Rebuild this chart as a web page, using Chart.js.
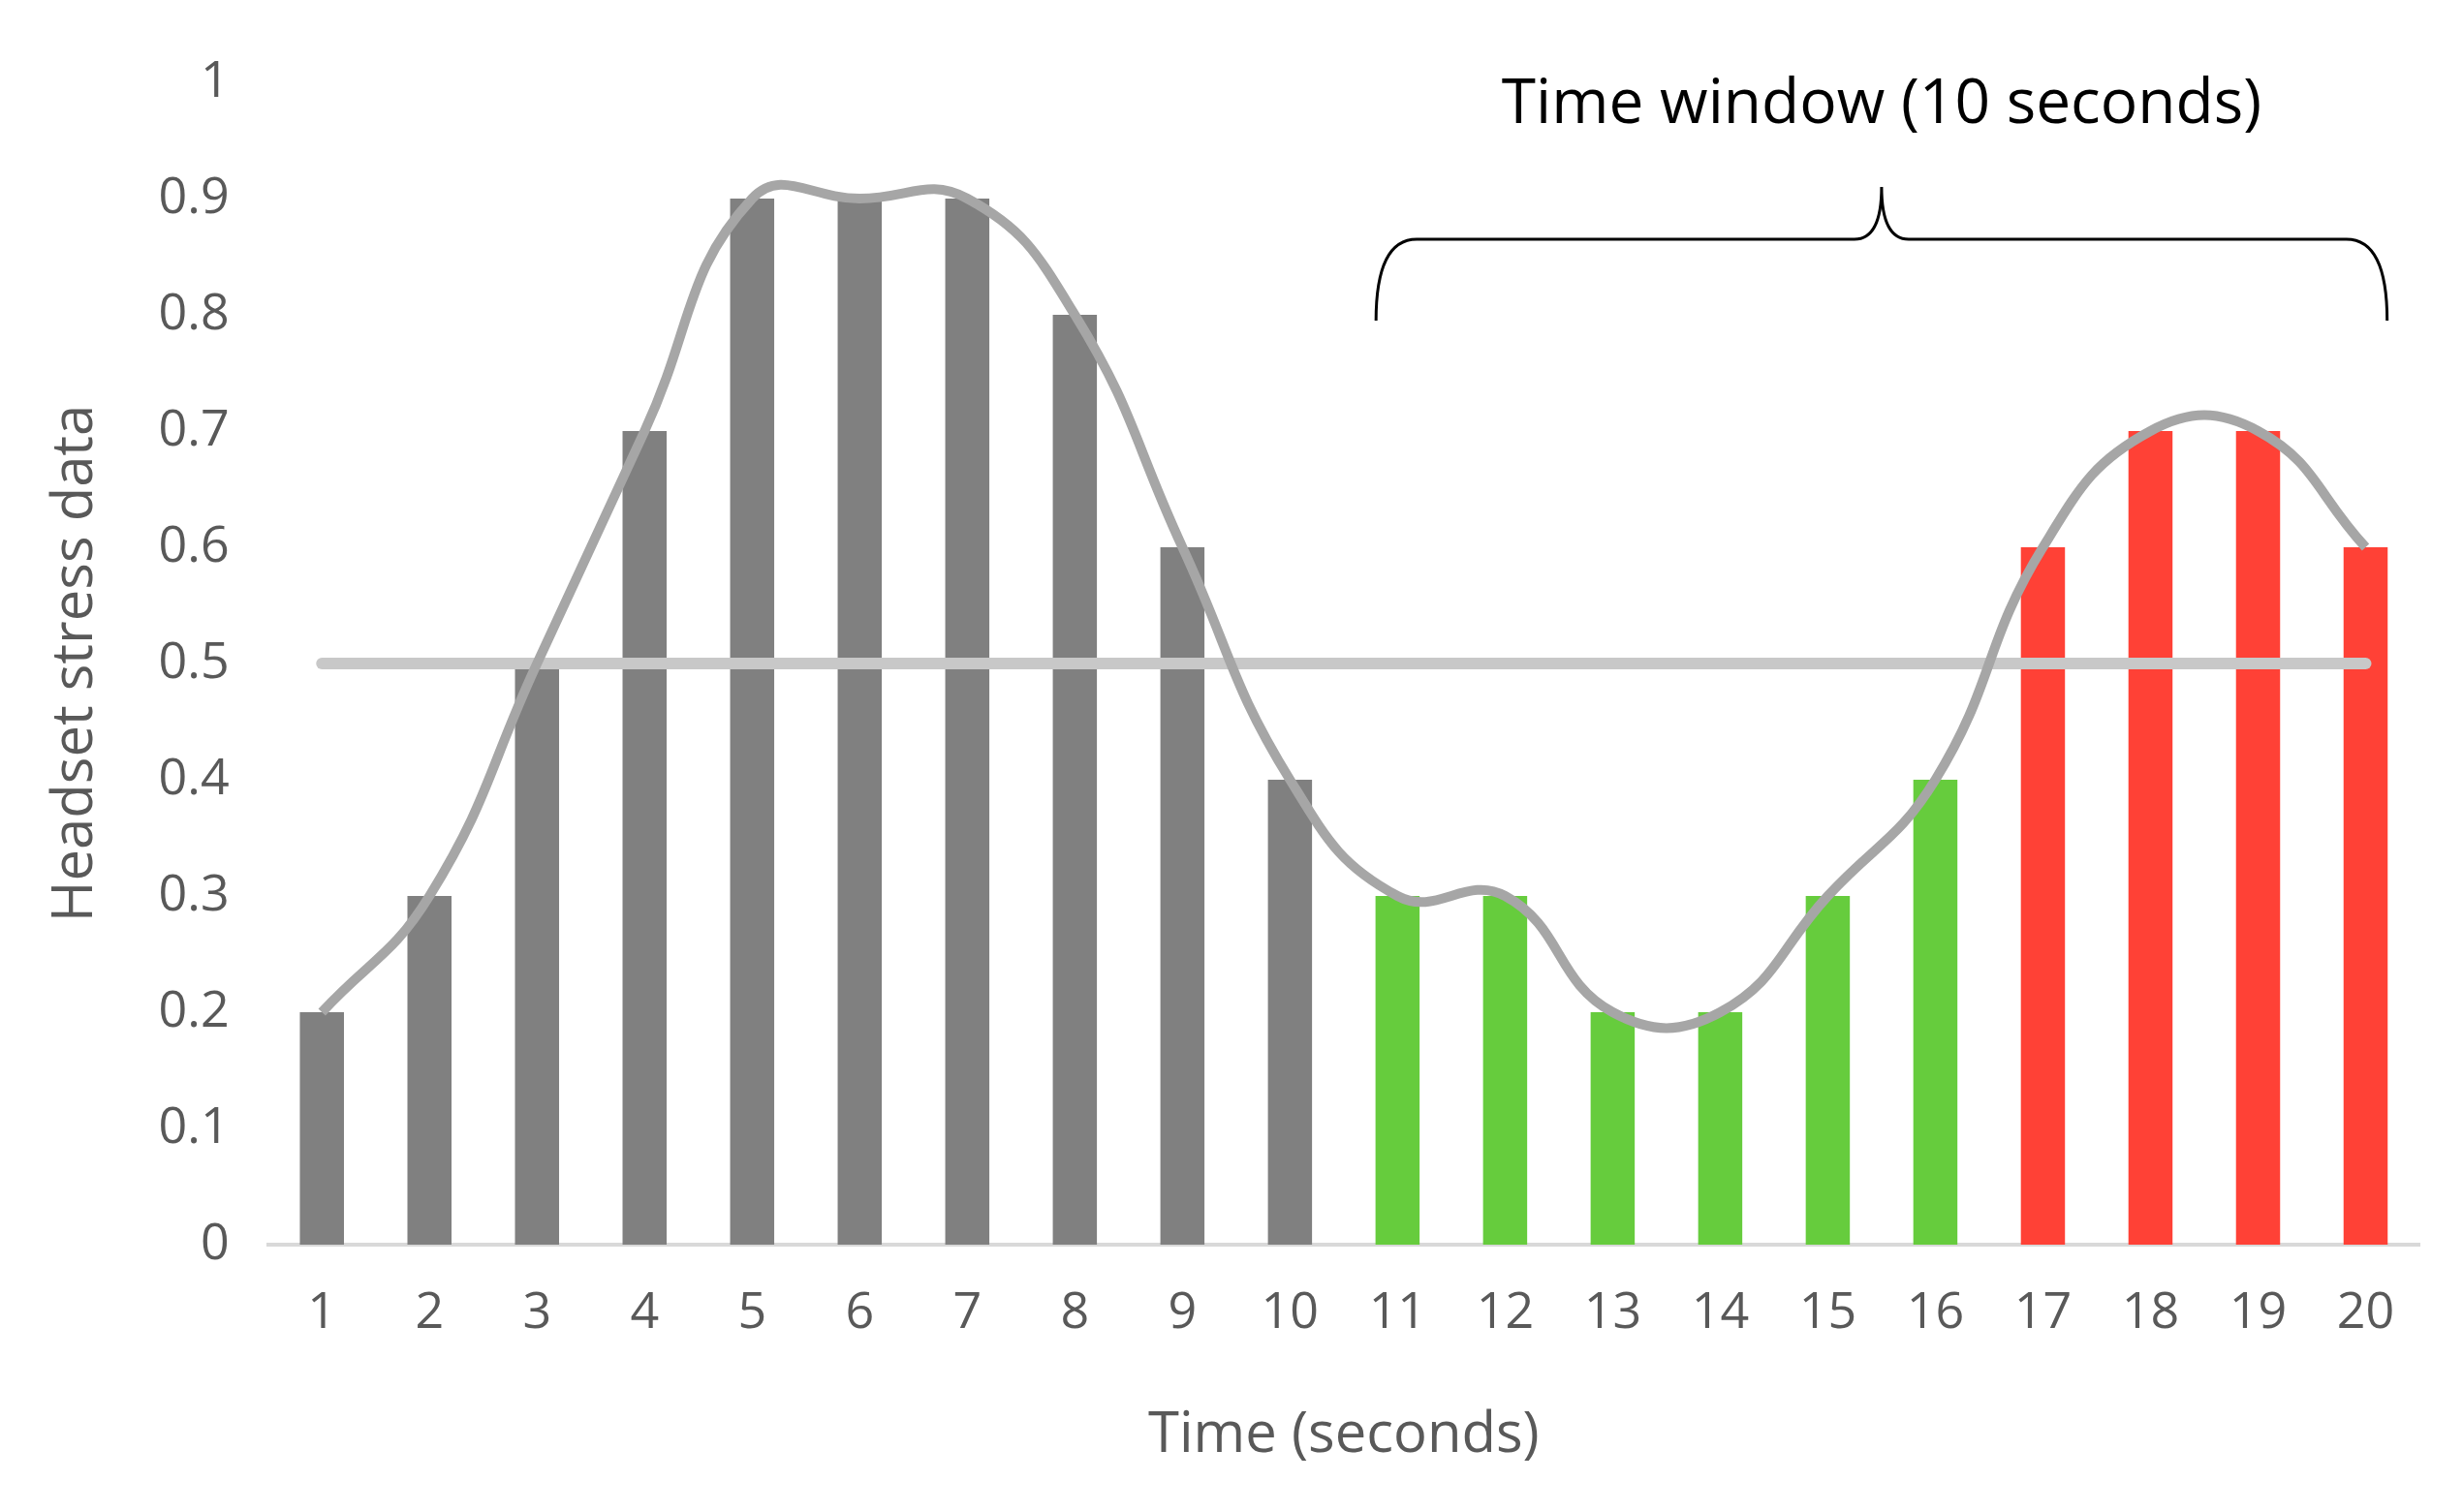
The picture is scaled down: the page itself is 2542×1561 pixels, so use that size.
<!DOCTYPE html>
<html>
<head>
<meta charset="utf-8">
<script src="https://cdn.jsdelivr.net/npm/chart.js@4/dist/chart.umd.min.js"></script>
<style>
  html, body { margin: 0; padding: 0; background: #fff; }
  #wrap { width: 2542px; height: 1561px; }
</style>
</head>
<body>
<div id="wrap"><canvas id="chartArea"></canvas></div>
<script>
const seconds = ['1','2','3','4','5','6','7','8','9','10','11','12','13','14','15','16','17','18','19','20'];
const stress = [0.2,0.3,0.5,0.7,0.9,0.9,0.9,0.8,0.6,0.4,0.3,0.3,0.2,0.2,0.3,0.4,0.6,0.7,0.7,0.6];
const threshold = [0.5,0.5,0.5,0.5,0.5,0.5,0.5,0.5,0.5,0.5,0.5,0.5,0.5,0.5,0.5,0.5,0.5,0.5,0.5,0.5];
const barColours = [
  '#808080','#808080','#808080','#808080','#808080','#808080','#808080','#808080','#808080','#808080',
  '#66cc3d','#66cc3d','#66cc3d','#66cc3d','#66cc3d','#66cc3d',
  '#ff4136','#ff4136','#ff4136','#ff4136'
];
const windowTitle = 'Time window (10 seconds)';

// curly brace above the last ten seconds
const bracePlugin = {
  id: 'brace',
  afterDraw(chart) {
    const ctx = chart.ctx;
    const x = chart.scales.x, y = chart.scales.y;
    const half = (x.getPixelForValue(1) - x.getPixelForValue(0)) * 0.2;
    const x0 = x.getPixelForValue(10) - half;
    const x1 = x.getPixelForValue(19) + half;
    const yb = y.getPixelForValue(0.795);
    const ym = y.getPixelForValue(0.865);
    const yt = y.getPixelForValue(0.91);
    const xm = (x0 + x1) / 2;
    const r = 28;
    ctx.save();
    ctx.strokeStyle = '#000';
    ctx.lineWidth = 3;
    ctx.beginPath();
    ctx.moveTo(x0, yb);
    ctx.quadraticCurveTo(x0, ym, x0 + r * 1.5, ym);
    ctx.lineTo(xm - r, ym);
    ctx.quadraticCurveTo(xm, ym, xm, yt);
    ctx.quadraticCurveTo(xm, ym, xm + r, ym);
    ctx.lineTo(x1 - r * 1.5, ym);
    ctx.quadraticCurveTo(x1, ym, x1, yb);
    ctx.stroke();
    ctx.fillStyle = '#000';
    ctx.font = '64px "Open Sans"';
    ctx.textAlign = 'center';
    ctx.textBaseline = 'middle';
    ctx.fillText(windowTitle, xm, y.getPixelForValue(0.98));
    ctx.restore();
  }
};

const ctx = document.getElementById('chartArea');
new Chart(ctx, {
  data: {
    labels: seconds,
    datasets: [
      {
        type: 'line',
        data: stress,
        borderColor: '#a6a6a6',
        borderWidth: 10,
        pointRadius: 0,
        tension: 0.45,
        order: 0
      },
      {
        type: 'line',
        data: threshold,
        borderColor: '#c8c8c8',
        borderWidth: 12,
        pointRadius: 0,
        borderCapStyle: 'round',
        order: 1
      },
      {
        type: 'bar',
        data: stress,
        backgroundColor: barColours,
        barPercentage: 0.41,
        categoryPercentage: 1,
        order: 2
      }
    ]
  },
  options: {
    responsive: true,
    maintainAspectRatio: false,
    animation: false,
    layout: { padding: { left: 40, right: 45, top: 85, bottom: 40 } },
    plugins: { legend: { display: false }, tooltip: { enabled: false } },
    scales: {
      x: {
        grid: { display: false, drawTicks: false },
        border: { color: '#d9d9d9', width: 4 },
        ticks: { color: '#595959', font: { family: 'Open Sans', size: 52 }, padding: 40 },
        title: { display: true, text: 'Time (seconds)', color: '#595959', font: { family: 'Open Sans', size: 58 }, padding: { top: 20 } }
      },
      y: {
        min: 0, max: 1,
        grid: { display: false, drawTicks: false },
        border: { display: false },
        ticks: { stepSize: 0.1, color: '#595959', font: { family: 'Open Sans', size: 52 }, padding: 40,
          callback: v => Math.round(v * 10) / 10 },
        title: { display: true, text: 'Headset stress data', color: '#595959', font: { family: 'Open Sans', size: 58 }, padding: { bottom: 10 } }
      }
    }
  },
  plugins: [bracePlugin]
});
</script>
</body>
</html>
